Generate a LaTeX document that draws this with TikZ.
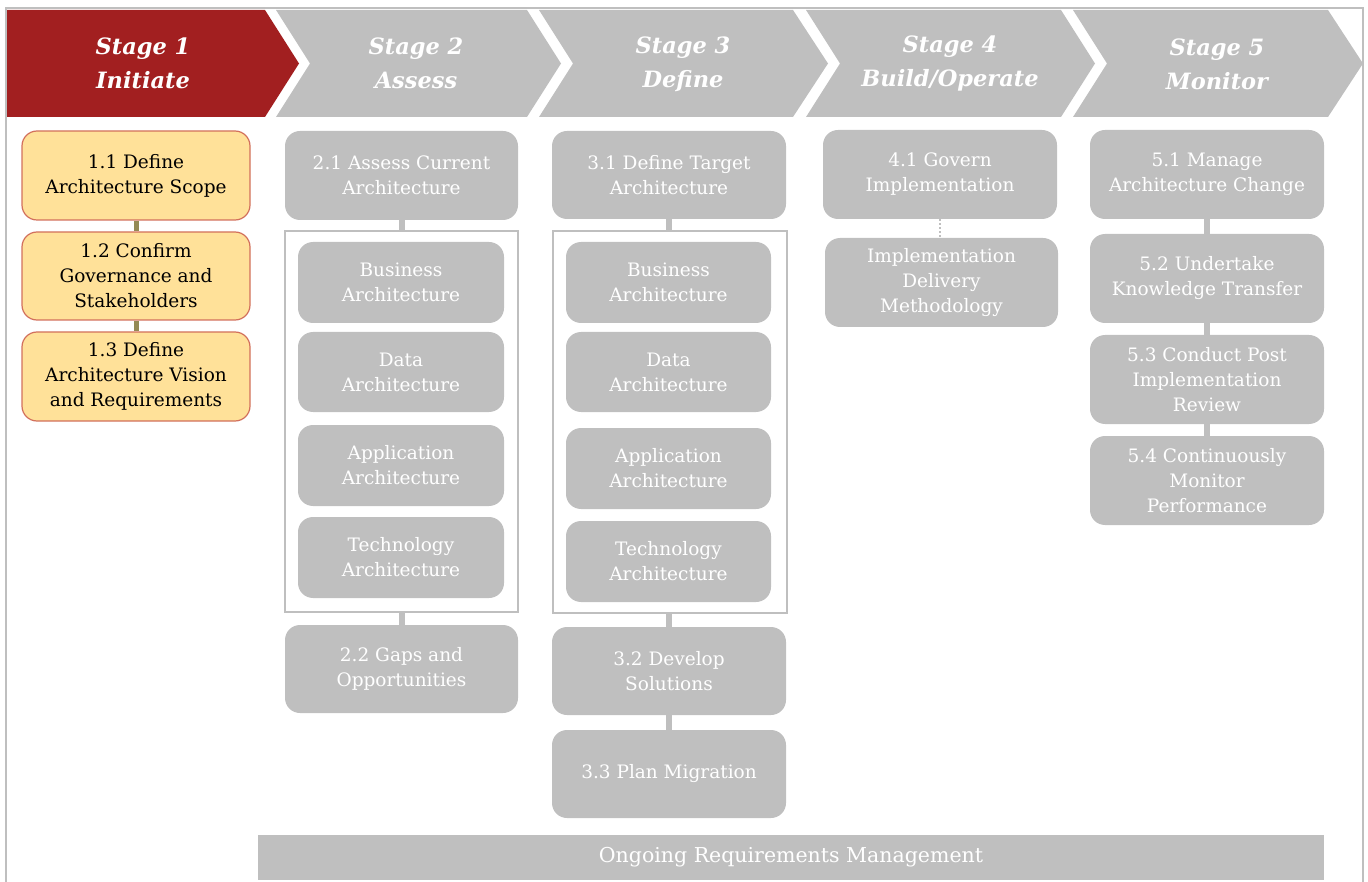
\documentclass[tikz,border=0pt]{standalone}
\usepackage{fontspec}
\setmainfont{DejaVu Serif}
\usepackage{xcolor}
\usepackage{tikz}

\definecolor{stagered}{HTML}{A21F20}
\definecolor{boxgray}{HTML}{BFBFBF}
\definecolor{initfill}{HTML}{FFE199}
\definecolor{initline}{HTML}{D2705C}
\definecolor{initlink}{HTML}{948A54}

\tikzset{
  stagetext/.style={text=white, align=center, font=\fontsize{22.5}{34}\selectfont\bfseries\itshape},
  graybox/.style={fill=boxgray, rounded corners=15pt, text=white, align=center, inner sep=0pt,
    font=\fontsize{18.5}{25}\selectfont},
  initbox/.style={graybox, fill=initfill, draw=initline, line width=1.2pt, text=black},
  groupframe/.style={draw=boxgray, line width=1.5pt, inner sep=0pt},
  graylink/.style={draw=boxgray, line width=6pt},
  initlink/.style={draw=initlink, line width=5pt},
}

\begin{document}
\begin{tikzpicture}[x=1pt, y=-1pt]
		\useasboundingbox (0,0) rectangle (1368,882);
		% outer frame
		\draw[boxgray, line width=2pt] (6,882) -- (6,8) -- (1363,8) -- (1363,882);
		% stage chevrons
		\fill[stagered] (7,10) -- (265,10) -- (299,63.5) -- (265,117) -- (7,117) -- cycle;
		\fill[boxgray] (276,10) -- (527,10) -- (561,63.5) -- (527,117) -- (276,117) -- (310,63.5) -- cycle;
		\fill[boxgray] (539,10) -- (793,10) -- (828,63.5) -- (793,117) -- (539,117) -- (573,63.5) -- cycle;
		\fill[boxgray] (806,10) -- (1061,10) -- (1095,63.5) -- (1061,117) -- (806,117) -- (840,63.5) -- cycle;
		\fill[boxgray] (1073,10) -- (1328,10) -- (1363,63.5) -- (1328,117) -- (1073,117) -- (1107,63.5) -- cycle;
		\node[stagetext] (stage1) at (143,63) {Stage 1\\Initiate};
		\node[stagetext] (stage2) at (416,63) {Stage 2\\Assess};
		\node[stagetext] (stage3) at (683,64) {Stage 3\\Define};
		\node[stagetext] (stage4) at (950,63) {Stage 4\\Build/Operate};
		\node[stagetext] (stage5) at (1217,64) {Stage 5\\Monitor};

		% stage 1
		\node[initbox, minimum width=228pt, minimum height=89pt] (init11) at (136,175.5) {1.1 Define\\Architecture Scope};
		\node[initbox, minimum width=228pt, minimum height=88pt] (init12) at (136,276) {1.2 Confirm\\Governance and\\Stakeholders};
		\node[initbox, minimum width=228pt, minimum height=89pt] (init13) at (136,376.5) {1.3 Define\\Architecture Vision\\and Requirements};
		\draw[initlink] (init11.south) -- (init12.north);
		\draw[initlink] (init12.south) -- (init13.north);

		% stage 2
		\node[graybox, minimum width=233pt, minimum height=89pt] (assess21) at (401.5,175.5) {2.1 Assess Current\\Architecture};
		\node[groupframe, minimum width=233pt, minimum height=381pt] (assessgrp) at (401.5,421.5) {};
		\node[graybox, minimum width=206pt, minimum height=81pt] (assessbus) at (401,282.5) {Business\\Architecture};
		\node[graybox, minimum width=206pt, minimum height=80pt] (assessdat) at (401,372) {Data\\Architecture};
		\node[graybox, minimum width=206pt, minimum height=81pt] (assessapp) at (401,465.5) {Application\\Architecture};
		\node[graybox, minimum width=206pt, minimum height=81pt] (assesstec) at (401,557.5) {Technology\\Architecture};
		\node[graybox, minimum width=233pt, minimum height=88pt] (assess22) at (401.5,669) {2.2 Gaps and\\Opportunities};
		\draw[graylink] (assess21.south) -- (assessgrp.north);
		\draw[graylink] (assessgrp.south) -- (assess22.north);

		% stage 3
		\node[graybox, minimum width=234pt, minimum height=88pt] (define31) at (669,175) {3.1 Define Target\\Architecture};
		\node[groupframe, minimum width=234pt, minimum height=382pt] (definegrp) at (670,422) {};
		\node[graybox, minimum width=205pt, minimum height=81pt] (definebus) at (668.5,282.5) {Business\\Architecture};
		\node[graybox, minimum width=205pt, minimum height=80pt] (definedat) at (668.5,372) {Data\\Architecture};
		\node[graybox, minimum width=205pt, minimum height=81pt] (defineapp) at (668.5,468.5) {Application\\Architecture};
		\node[graybox, minimum width=205pt, minimum height=81pt] (definetec) at (668.5,561.5) {Technology\\Architecture};
		\node[graybox, minimum width=234pt, minimum height=88pt] (define32) at (669,671) {3.2 Develop\\Solutions};
		\node[graybox, minimum width=234pt, minimum height=88pt] (define33) at (669,774) {3.3 Plan Migration};
		\draw[graylink] (define31.south) -- (definegrp.north -| define31.south);
		\draw[graylink] (definegrp.south -| define32.north) -- (define32.north);
		\draw[graylink] (define32.south) -- (define33.north);

		% stage 4
		\node[graybox, minimum width=234pt, minimum height=89pt] (build41) at (940,174.5) {4.1 Govern\\Implementation};
		\node[graybox, minimum width=233pt, minimum height=89pt] (buildidm) at (941.5,282.5) {Implementation\\Delivery\\Methodology};
		\draw[boxgray, line width=2pt, dotted] (build41.south) -- (buildidm.north -| build41.south);

		% stage 5
		\node[graybox, minimum width=234pt, minimum height=89pt] (monitor51) at (1207,174.5) {5.1 Manage\\Architecture Change};
		\node[graybox, minimum width=234pt, minimum height=89pt] (monitor52) at (1207,278.5) {5.2 Undertake\\Knowledge Transfer};
		\node[graybox, minimum width=234pt, minimum height=89pt] (monitor53) at (1207,379.5) {5.3 Conduct Post\\Implementation\\Review};
		\node[graybox, minimum width=234pt, minimum height=89pt] (monitor54) at (1207,480.5) {5.4 Continuously\\Monitor\\Performance};
		\draw[graylink] (monitor51.south) -- (monitor52.north);
		\draw[graylink] (monitor52.south) -- (monitor53.north);
		\draw[graylink] (monitor53.south) -- (monitor54.north);

		% ongoing bar
		\node[graybox, rounded corners=0pt, minimum width=1066pt, minimum height=45pt, font=\fontsize{20.5}{25}\selectfont] (ongoing) at (791,857.5) {Ongoing Requirements Management};
		\end{tikzpicture}
\end{document}
